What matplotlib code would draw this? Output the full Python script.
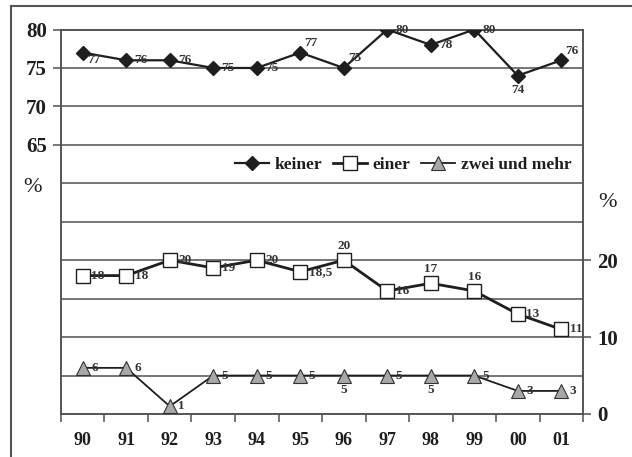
import numpy as np
import matplotlib.pyplot as plt
from matplotlib.lines import Line2D
from matplotlib.transforms import blended_transform_factory

plt.rcParams['font.family'] = ['Liberation Serif', 'DejaVu Serif']

# data
years = ['90', '91', '92', '93', '94', '95', '96', '97', '98', '99', '00', '01']
keiner = [77, 76, 76, 75, 75, 77, 75, 80, 78, 80, 74, 76]
einer = [18, 18, 20, 19, 20, 18.5, 20, 16, 17, 16, 13, 11]
zwei = [6, 6, 1, 5, 5, 5, 5, 5, 5, 5, 3, 3]

# where each value label sits relative to its marker
pos_keiner = ['br', 'r', 'r', 'r', 'r', 'ar', 'ar', 'r', 'r', 'r', 'b', 'ar']
pos_einer = ['r', 'r', 'r', 'r', 'r', 'r', 'a', 'r', 'a', 'a', 'r', 'r']
pos_zwei = ['r', 'r', 'r', 'r', 'r', 'r', 'b', 'r', 'b', 'r', 'r', 'r']

offsets = {'r': (6, 0, 'left', 'center'),
           'br': (3, -5, 'left', 'center'),
           'ar': (3, 7, 'left', 'center'),
           'a': (0, 6, 'center', 'bottom'),
           'b': (0, -6, 'center', 'top')}

dark = '#1e1e1e'
grid_c = '#505050'


def fmt(v):
    s = ('%g' % v)
    return s.replace('.', ',')


fig = plt.figure(figsize=(6.32, 4.57), dpi=100)
ax = fig.add_axes([0.0965, 0.0941, 0.826, 0.8413])
ax2 = ax.twinx()

x = np.arange(len(years))
ax.set_xlim(-0.5, len(years) - 0.5)
ax.set_ylim(30, 80)
ax2.set_ylim(0, 50)

for v in np.arange(35, 80, 5):
    ax.axhline(v, color=grid_c, lw=1.1, zorder=0)

for a in (ax, ax2):
    for s in a.spines.values():
        s.set_color(grid_c)
        s.set_linewidth(1.1)

ax.set_yticks([65, 70, 75, 80])
ax.set_yticklabels(['65', '70', '75', '80'])
ax2.set_yticks([0, 10, 20])
ax2.set_yticklabels(['0', '10', '20'])
ax.tick_params(axis='y', length=6, width=1.1, color=grid_c, pad=4,
               labelsize=15, labelcolor=dark)
ax2.tick_params(axis='y', length=6, width=1.1, color=grid_c, pad=4,
                labelsize=15, labelcolor=dark)
for lbl in ax.get_yticklabels() + ax2.get_yticklabels():
    lbl.set_fontweight('bold')

ax.set_xticks(x)
ax.set_xticklabels(years, fontsize=13, fontweight='bold', color=dark)
ax.set_xticks(np.arange(-0.5, len(years), 1), minor=True)
ax.tick_params(axis='x', which='major', length=0, pad=13)
ax.tick_params(axis='x', which='minor', length=6, width=1.1, color=grid_c)

ax.text(-0.054, 59.5, '%', transform=blended_transform_factory(ax.transAxes, ax.transData),
        ha='center', va='center', fontsize=16, color=dark)
ax2.text(1.046, 27.5, '%', transform=blended_transform_factory(ax2.transAxes, ax2.transData),
         ha='center', va='center', fontsize=16, color=dark)

l1, = ax2.plot(x, np.array(keiner) - 30, color=dark, lw=1.6, marker='D', ms=7,
               mfc=dark, mec=dark, label='keiner', zorder=3)
l2, = ax2.plot(x, einer, color=dark, lw=2.0, marker='s', ms=9.5,
               mfc='white', mec=dark, mew=1.0, label='einer', zorder=3)
l3, = ax2.plot(x, zwei, color=dark, lw=1.3, marker='^', ms=10,
               mfc='#a8a8a8', mec='#333333', mew=0.8, label='zwei und mehr', zorder=3)


def put_labels(vals, shift, where):
    for i, v in enumerate(vals):
        dx, dy, ha, va = offsets[where[i]]
        ax2.annotate(fmt(v), (x[i], v + shift), xytext=(dx, dy),
                     textcoords='offset points', ha=ha, va=va,
                     fontsize=9.5, fontweight='bold', color='#333333', zorder=4)


put_labels(keiner, -30, pos_keiner)
put_labels(einer, 0, pos_einer)
put_labels(zwei, 0, pos_zwei)

leg = ax2.legend(handles=[l1, l2, l3], loc='center', bbox_to_anchor=(0.655, 0.648),
                 ncol=3, frameon=False, handlelength=2.0, handletextpad=0.3,
                 columnspacing=0.6, prop={'size': 12.5, 'weight': 'bold'})
for t in leg.get_texts():
    t.set_color(dark)

# scanned page frame
fig.add_artist(Line2D([11 / 632, 11 / 632], [0, 1 - 6 / 457], color='#555555', lw=1.5))
fig.add_artist(Line2D([11 / 632, 1], [1 - 6 / 457, 1 - 6 / 457], color='#555555', lw=1.5))

fig.savefig('out.png', dpi=100)
